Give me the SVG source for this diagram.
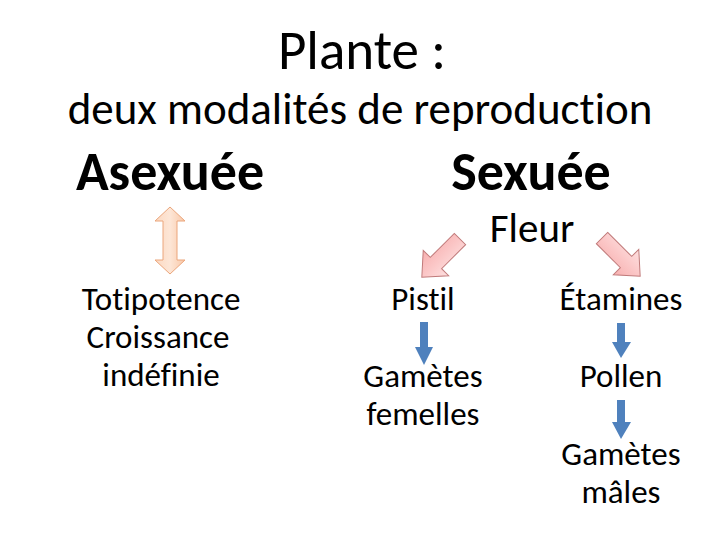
<svg xmlns="http://www.w3.org/2000/svg" width="720" height="540" viewBox="0 0 720 540">
<defs>
<linearGradient id="og" x1="0" y1="0" x2="1" y2="0">
<stop offset="0" stop-color="#fcd9c2"/><stop offset="0.5" stop-color="#fde6d6"/><stop offset="1" stop-color="#f9c8a8"/>
</linearGradient>
<linearGradient id="pg" x1="0" y1="0" x2="0" y2="1">
<stop offset="0" stop-color="#fde0e0"/><stop offset="0.5" stop-color="#fbc7c7"/><stop offset="1" stop-color="#f7b0b0"/>
</linearGradient>
<polygon id="pa" points="0,-8 34,-8 34,-18 54,0 34,18 34,8 0,8"/>
</defs>
<style>
text{font-family:Carlito,"Liberation Sans","Open Sans",sans-serif;fill:#000;text-anchor:middle;font-variant-ligatures:none}
.t1{font-size:55px}
.t2{font-size:45px}
.h{font-size:54px;font-weight:bold}
.f{font-size:41px}
.b{font-size:33px}
.pink{fill:url(#pg);stroke:#c07a7a;stroke-width:1}
.blue{fill:#4f81bd;stroke:none}
</style>
<rect width="720" height="540" fill="#fff"/>
<g id="title"><text class="t1" x="362" y="69">Plante :</text></g>
<g id="subtitle"><text class="t2" x="360" y="124">deux modalités de reproduction</text></g>
<g id="asexuee"><text class="h" x="170" y="190">Asexuée</text></g>
<g id="sexuee"><text class="h" x="531" y="190">Sexuée</text></g>
<g id="fleur"><text class="f" x="532" y="242">Fleur</text></g>
<g id="asexuee-details"><text class="b" x="161" y="310">Totipotence</text><text class="b" x="158" y="348">Croissance</text><text class="b" x="161" y="386">indéfinie</text></g>
<g id="pistil"><text class="b" x="423" y="310">Pistil</text></g>
<g id="gametes-femelles"><text class="b" x="423" y="387">Gamètes</text><text class="b" x="423" y="425">femelles</text></g>
<g id="etamines"><text class="b" x="621" y="310">Étamines</text></g>
<g id="pollen"><text class="b" x="621" y="387">Pollen</text></g>
<g id="gametes-males"><text class="b" x="621" y="465">Gamètes</text><text class="b" x="621" y="503">mâles</text></g>
<g id="connectors">
<polygon points="170,207 185,221 177,221 177,260 185,260 170,274 155,260 163,260 163,221 155,221" fill="url(#og)" stroke="#eba67c" stroke-width="1"/>
<use href="#pa" class="pink" transform="translate(460,239) rotate(135)"/>
<use href="#pa" class="pink" transform="translate(602,238) rotate(45)"/>
<polygon class="blue" points="420,322 428,322 428,347 433,347 424,365 415,347 420,347"/>
<polygon class="blue" points="617,323 625,323 625,342 631,342 621,358 612,342 617,342"/>
<polygon class="blue" points="617,400 625,400 625,422 631,422 621,439 612,422 617,422"/>
</g>
</svg>
